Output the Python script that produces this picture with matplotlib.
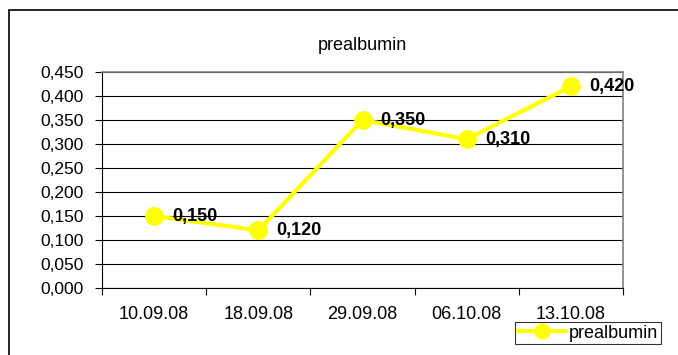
import matplotlib.pyplot as plt
from matplotlib.patches import Rectangle

plt.rcParams['font.family'] = ['Liberation Sans', 'DejaVu Sans']

dates = ["10.09.08", "18.09.08", "29.09.08", "06.10.08", "13.10.08"]
prealbumin = [0.150, 0.120, 0.350, 0.310, 0.420]
y_ticks = [0.0, 0.05, 0.10, 0.15, 0.20, 0.25, 0.30, 0.35, 0.40, 0.45]

W, H = 678, 355
fig = plt.figure(figsize=(W / 100, H / 100), dpi=100)

# outer chart frame (right/bottom run off the image)
fig.patches.append(Rectangle((9 / W, -0.1), 1.2, 1 - 10 / H + 0.1, transform=fig.transFigure,
                             fill=False, edgecolor='black', linewidth=1.2))

ax = fig.add_axes([102 / W, 1 - 288 / H, (623 - 102) / W, (288 - 72) / H])
x = list(range(len(dates)))
ax.plot(x, prealbumin, color='#ffff00', linewidth=3, marker='o', markersize=12.5,
        markerfacecolor='#ffff00', markeredgecolor='#ffff00', label='prealbumin', zorder=3)

for xi, v in zip(x, prealbumin):
    ax.annotate(f"{v:.3f}".replace('.', ','), (xi, v), xytext=(13, 0), textcoords='offset points',
                ha='left', va='center', fontsize=13, fontweight='bold', zorder=4)

ax.set_xlim(-0.5, len(dates) - 0.5)
ax.set_ylim(0, 0.45)
ax.set_yticks(y_ticks)
ax.set_yticklabels([f"{t:.3f}".replace('.', ',') for t in y_ticks], fontsize=12.5)
ax.set_xticks([i - 0.5 for i in range(len(dates) + 1)])
ax.set_xticklabels([])
ax.set_xticks(x, minor=True)
ax.set_xticklabels(dates, minor=True, fontsize=13)
ax.tick_params(axis='x', which='minor', length=0, pad=13)
ax.tick_params(axis='x', which='major', length=5, direction='out', color='black')
ax.tick_params(axis='y', length=5, direction='out', color='black', pad=8)
ax.grid(axis='y', color='black', linewidth=0.8)
ax.set_axisbelow(True)
for side in ['top', 'right']:
    ax.spines[side].set_color('#808080')
    ax.spines[side].set_linewidth(1.2)
ax.spines['left'].set_color('black')
ax.spines['bottom'].set_color('black')

fig.text((102 + 623) / 2 / W, 1 - 45 / H, 'prealbumin', ha='center', va='center', fontsize=13)

leg = fig.legend(loc='upper left', bbox_to_anchor=(515 / W, 1 - 322 / H), fontsize=13,
                 frameon=True, fancybox=False, edgecolor='black', borderpad=0.15,
                 handlelength=2.7, handletextpad=0.15, borderaxespad=0, markerscale=0.85)
leg.get_frame().set_linewidth(0.8)

fig.savefig('out.png', dpi=100)
